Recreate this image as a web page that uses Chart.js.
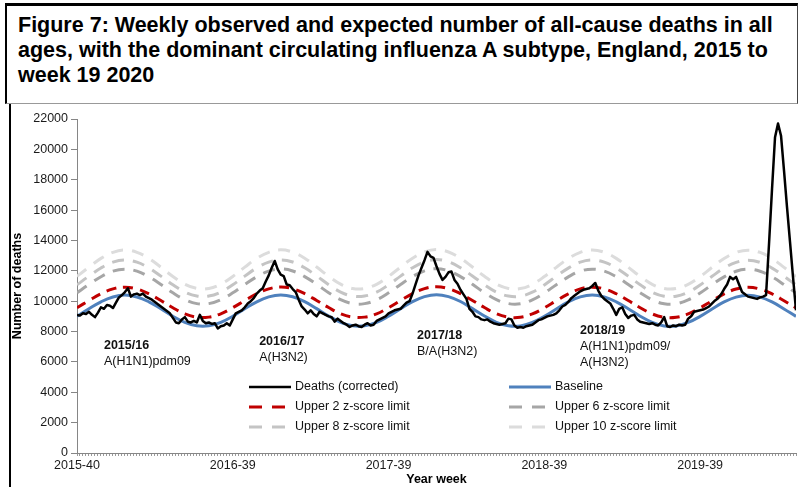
<!DOCTYPE html>
<html>
<head>
<meta charset="utf-8">
<script src="https://cdn.jsdelivr.net/npm/chart.js@4.4.1/dist/chart.umd.min.js"></script>
<style>
  html, body { margin: 0; padding: 0; background: #fff; }
  body { width: 800px; height: 487px; position: relative; overflow: hidden; font-family: "Liberation Sans", Arial, sans-serif; }
  .kotak-judul { position: absolute; left: 5px; top: 3px; width: 793px; height: 101px; box-sizing: border-box;
    border-top: 3px solid #000; border-left: 2px solid #000; border-right: 1px solid #444; border-bottom: 1px solid #999; }
  .kotak-judul h1 { margin: 0; position: absolute; left: 11px; top: 7px; font-size: 21.5px; line-height: 25px; font-weight: bold; color: #000; white-space: nowrap; }
  .garis-kiri { position: absolute; left: 9px; top: 104px; width: 2px; height: 383px; background: #000; }
  #grafik { position: absolute; left: 0; top: 0; }
</style>
</head>
<body>
<div class="kotak-judul">
  <h1>Figure 7: Weekly observed and expected number of all-cause deaths in all<br>ages, with the dominant circulating influenza A subtype, England, 2015 to<br>week 19 2020</h1>
</div>
<div class="garis-kiri"></div>
<canvas id="grafik" width="800" height="487"></canvas>
<script>
// week index 0 = 2015-40, 240 = 2020-19
const tickWeeks = [0, 52, 104, 156, 208];
const tickLabels = ['2015-40', '2016-39', '2017-39', '2018-39', '2019-39'];

const deaths = [
  9100, 9050, 9200, 9150, 9300, 9100, 8950, 9250, 9600, 9500,
  9750, 9700, 9550, 9900, 10250, 10400, 10600, 10850, 10300, 10450,
  10500, 10400, 10500, 10300, 10200, 10100, 9950, 9800, 9650, 9500,
  9350, 9200, 8900, 8600, 8550, 8800, 8950, 8650, 8600, 8700,
  8600, 9100, 8700, 8550, 8600, 8500, 8550, 8200, 8350, 8400,
  8550, 8400, 8800, 9200, 9300, 9400, 9600, 9850, 10000, 10200,
  10500, 10700, 10850, 11300, 11700, 12200, 12650, 12100, 11750, 11650,
  11100, 11050, 10800, 10600, 10100, 9650, 9450, 9200, 9400, 9150,
  9000, 9300, 9200, 9100, 9000, 8950, 8650, 8850, 8700, 8550,
  8450, 8300, 8400, 8450, 8350, 8300, 8450, 8550, 8400, 8450,
  8700, 8800, 8900, 9000, 9200, 9300, 9400, 9450, 9500, 9700,
  9900, 10000, 10500, 11100, 11700, 12200, 12700, 13250, 12950, 12850,
  12300, 11800, 11400, 11600, 11900, 11950, 11400, 11150, 10750, 10450,
  10150, 9500, 9300, 9000, 8950, 8800, 8750, 8800, 8650, 8550,
  8500, 8450, 8500, 8550, 8850, 8800, 8400, 8250, 8300, 8250,
  8350, 8400, 8450, 8600, 8750, 8800, 8900, 9000, 9050, 9100,
  9200, 9400, 9650, 9750, 9950, 10200, 10350, 10500, 10650, 10750,
  10800, 10850, 11000, 11200, 10700, 10350, 10150, 10000, 9850, 9500,
  9100, 9500, 9600, 9150, 8900, 9050, 9100, 8800, 8650, 8600,
  8550, 8500, 8550, 8450, 8400, 8600, 8950, 8350, 8300, 8400,
  8350, 8450, 8400, 8450, 8850, 9000, 9300, 9350, 9400, 9450,
  9550, 9650, 9850, 10050, 10200, 10450, 10800, 11100, 11600, 11450,
  11600, 11100, 10600, 10450, 10300, 10250, 10200, 10150, 10250, 10300,
  10400, 13800, 17400, 20800, 21700, 20900, 18600, 16200, 13900, 11600, 9400
];

// expected lines, read every 4 weeks
const smoothWeeks = [
  0, 4, 8, 12, 16, 20, 24, 28, 32, 36, 40, 44, 48, 52, 56, 60, 64, 68, 72, 76,
  80, 84, 88, 92, 96, 100, 104, 108, 112, 116, 120, 124, 128, 132, 136, 140, 144, 148, 152, 156,
  160, 164, 168, 172, 176, 180, 184, 188, 192, 196, 200, 204, 208, 212, 216, 220, 224, 228, 232, 236,
  240, 241
];
const baseline = [
  9010, 9500, 9960, 10280,
  10400, 10280, 9960, 9500, 9010, 8610, 8380, 8380, 8610, 9010, 9500, 9960, 10280,
  10410, 10290, 9970, 9510, 9020, 8610, 8380, 8380, 8600, 9010, 9500, 9970, 10300,
  10430, 10300, 9980, 9510, 9020, 8610, 8380, 8370, 8600, 9000, 9490, 9950, 10280,
  10400, 10280, 9960, 9500, 9010, 8600, 8370, 8370, 8600, 9000, 9490, 9950, 10270,
  10390, 10270, 9950, 9490, 9000, 8900
];
const upper2 = [
  9570, 10040, 10490, 10810,
  10920, 10810, 10490, 10040, 9570, 9170, 8950, 8950, 9170, 9570, 10040, 10490, 10810,
  10930, 10820, 10500, 10050, 9580, 9170, 8950, 8950, 9160, 9570, 10040, 10500, 10830,
  10950, 10830, 10500, 10050, 9580, 9170, 8950, 8940, 9160, 9560, 10030, 10480, 10810,
  10920, 10810, 10490, 10040, 9570, 9160, 8940, 8940, 9160, 9560, 10030, 10480, 10800,
  10910, 10800, 10480, 10030, 9560, 9450
];
const upper6 = [
  10550, 11100, 11610, 11980,
  12110, 11980, 11610, 11100, 10550, 10100, 9840, 9840, 10100, 10550, 11100, 11610, 11980,
  12120, 11990, 11620, 11110, 10560, 10100, 9840, 9840, 10090, 10550, 11100, 11620, 12000,
  12140, 12000, 11620, 11110, 10560, 10100, 9840, 9830, 10090, 10540, 11090, 11600, 11980,
  12110, 11980, 11610, 11100, 10550, 10090, 9830, 9830, 10090, 10540, 11090, 11600, 11970,
  12100, 11970, 11600, 11090, 10540, 10420
];
const upper8 = [
  11080, 11650, 12190, 12570,
  12710, 12570, 12190, 11650, 11080, 10600, 10340, 10340, 10600, 11080, 11650, 12190, 12570,
  12720, 12580, 12200, 11660, 11090, 10600, 10340, 10340, 10590, 11080, 11650, 12200, 12590,
  12740, 12590, 12200, 11660, 11090, 10600, 10340, 10330, 10590, 11070, 11640, 12180, 12570,
  12710, 12570, 12190, 11650, 11080, 10590, 10330, 10330, 10590, 11070, 11640, 12180, 12560,
  12700, 12560, 12180, 11640, 11070, 10940
];
const upper10 = [
  11630, 12240, 12820, 13220,
  13370, 13220, 12820, 12240, 11630, 11120, 10840, 10840, 11120, 11630, 12240, 12820, 13220,
  13380, 13230, 12830, 12250, 11640, 11120, 10840, 10840, 11110, 11630, 12240, 12830, 13240,
  13400, 13240, 12830, 12250, 11640, 11120, 10840, 10830, 11110, 11620, 12230, 12810, 13220,
  13370, 13220, 12820, 12240, 11630, 11110, 10830, 10830, 11110, 11620, 12230, 12810, 13210,
  13360, 13210, 12810, 12230, 11620, 11480
];

const seasonNames = ['2015/16', '2016/17', '2017/18', '2018/19'];
const seasonSubtypes = [['A(H1N1)pdm09'], ['A(H3N2)'], ['B/A(H3N2)'], ['A(H1N1)pdm09/', 'A(H3N2)']];

const FONT = '"Liberation Sans", Arial, sans-serif';
Chart.defaults.font.family = FONT;
Chart.defaults.font.size = 12.5;
Chart.defaults.color = '#1a1a1a';

function titik(xs, ys) {
  return ys.map((v, i) => ({ x: xs[i], y: v }));
}
const mingguIndex = deaths.map((v, i) => i);

// legend drawn inside the plot, two columns
const legendaDalam = {
  id: 'legendaDalam',
  afterDraw(chart) {
    const c = chart.ctx;
    const kolom = [249, 509];
    const baris = [387, 407, 427];
    chart.data.datasets.forEach((ds, i) => {
      const x = kolom[i % 2];
      const y = baris[Math.floor(i / 2)];
      c.save();
      c.strokeStyle = ds.borderColor;
      c.lineWidth = ds.borderWidth;
      c.setLineDash(ds.legendDash || []);
      c.beginPath();
      c.moveTo(x, y);
      c.lineTo(x + 42, y);
      c.stroke();
      c.restore();
      c.save();
      c.fillStyle = '#111';
      c.font = '12.5px ' + FONT;
      c.textBaseline = 'middle';
      c.fillText(ds.label, x + 46, y);
      c.restore();
    });
  }
};

// season / subtype notes
const catatanMusim = {
  id: 'catatanMusim',
  afterDraw(chart) {
    const c = chart.ctx;
    const sx = chart.scales.x, sy = chart.scales.y;
    const jangkar = [[9, 7110], [60.8, 7310], [113.5, 7710], [167.9, 8040]];
    seasonNames.forEach((nama, i) => {
      const px = sx.getPixelForValue(jangkar[i][0]);
      const py = sy.getPixelForValue(jangkar[i][1]);
      c.save();
      c.fillStyle = '#111';
      c.textBaseline = 'middle';
      c.font = 'bold 12.5px ' + FONT;
      c.fillText(nama, px, py);
      c.font = '12.5px ' + FONT;
      seasonSubtypes[i].forEach((t, j) => c.fillText(t, px, py + 16 * (j + 1)));
      c.restore();
    });
  }
};

new Chart(document.getElementById('grafik').getContext('2d'), {
  type: 'line',
  data: {
    datasets: [
      { label: 'Deaths (corrected)', data: titik(mingguIndex, deaths), borderColor: '#000', borderWidth: 2.5,
        pointRadius: 0, tension: 0, borderJoinStyle: 'round' },
      { label: 'Baseline', data: titik(smoothWeeks, baseline), borderColor: '#4f81bd', borderWidth: 3,
        pointRadius: 0, tension: 0.4 },
      { label: 'Upper 2 z-score limit', data: titik(smoothWeeks, upper2), borderColor: '#c00000', borderWidth: 3,
        borderDash: [10, 7], legendDash: [13, 10], pointRadius: 0, tension: 0.4 },
      { label: 'Upper 6 z-score limit', data: titik(smoothWeeks, upper6), borderColor: '#a6a6a6', borderWidth: 3,
        borderDash: [12, 9], legendDash: [13, 10], pointRadius: 0, tension: 0.4 },
      { label: 'Upper 8 z-score limit', data: titik(smoothWeeks, upper8), borderColor: '#c4c4c4', borderWidth: 3,
        borderDash: [12, 9], legendDash: [13, 10], pointRadius: 0, tension: 0.4 },
      { label: 'Upper 10 z-score limit', data: titik(smoothWeeks, upper10), borderColor: '#dcdcdc', borderWidth: 3,
        borderDash: [12, 9], legendDash: [13, 10], pointRadius: 0, tension: 0.4 }
    ]
  },
  options: {
    responsive: false,
    animation: false,
    layout: { padding: { top: 119, right: 4, left: 0, bottom: 0 } },
    plugins: { legend: { display: false }, tooltip: { enabled: false } },
    scales: {
      x: {
        type: 'linear', min: 0, max: 240,
        afterFit: s => { s.height = 34; },
        ticks: {
          stepSize: 1, autoSkip: false, maxRotation: 0, padding: 2,
          callback: v => { const i = tickWeeks.indexOf(v); return i >= 0 ? tickLabels[i] : ''; }
        },
        grid: { drawOnChartArea: false, tickLength: 3, color: '#9a9a9a' },
        border: { color: '#868686' },
        title: { display: true, text: 'Year week', font: { weight: 'bold', size: 12.5 }, color: '#000', padding: 0 }
      },
      y: {
        min: 0, max: 22000,
        afterFit: s => { s.width = 77; },
        ticks: { stepSize: 2000, padding: 3, callback: v => String(v) },
        grid: { drawOnChartArea: false, tickLength: 6, color: '#868686' },
        border: { color: '#868686' },
        title: { display: true, text: 'Number of deaths', font: { weight: 'bold', size: 12.5 }, color: '#000', padding: { top: 10, bottom: 0 } }
      }
    }
  },
  plugins: [legendaDalam, catatanMusim]
});
</script>
</body>
</html>
